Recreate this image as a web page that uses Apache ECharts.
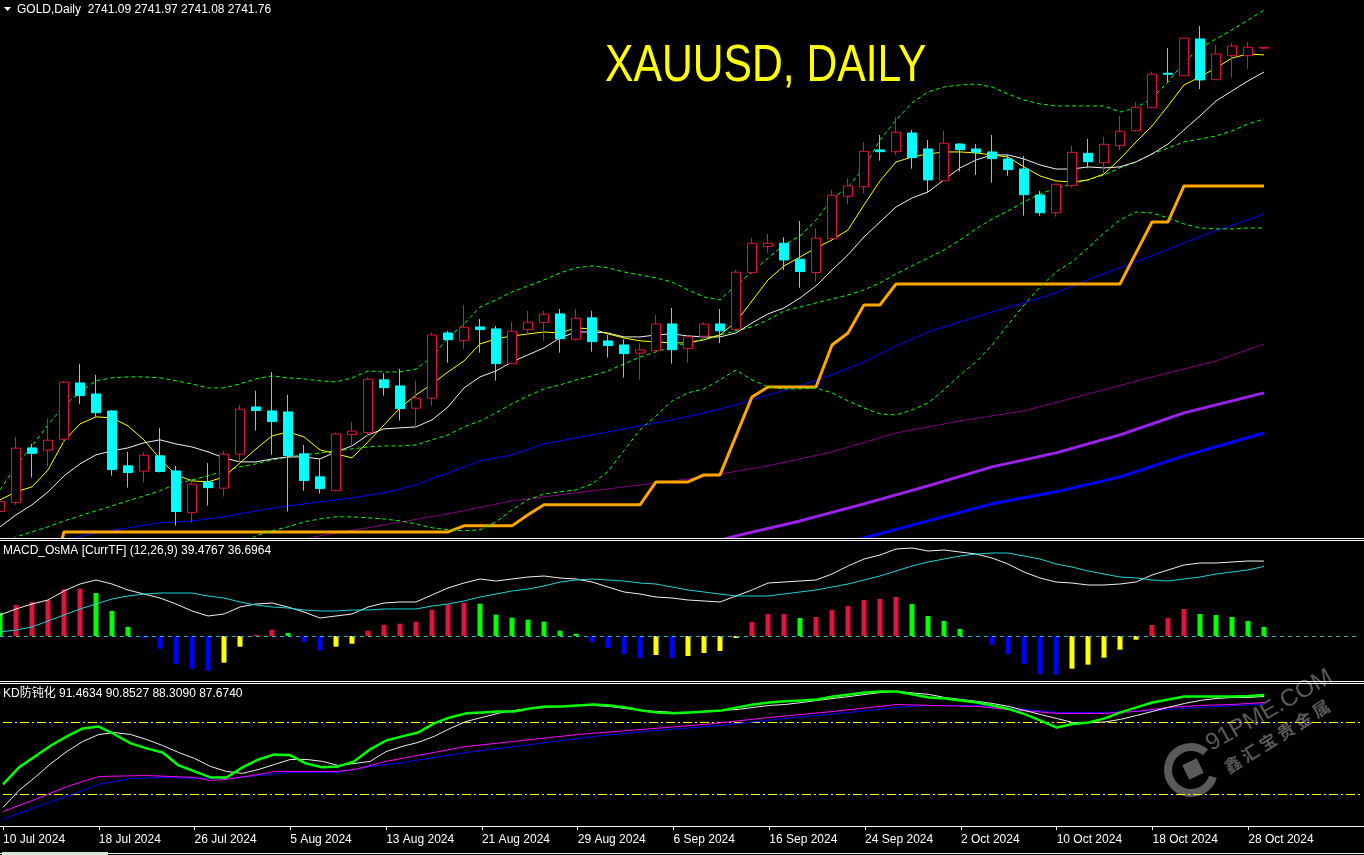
<!DOCTYPE html>
<html><head><meta charset="utf-8">
<script src="https://cdn.jsdelivr.net/npm/echarts@6.0.0/dist/echarts.min.js"></script>
<style>html,body{margin:0;padding:0;background:#000;overflow:hidden}#c{width:1364px;height:855px}</style>
</head><body><div id="c"></div>
<script>
// ---------- categories (trading days) ----------
const julDays = [10,11,12,15,16,17,18,19,22,23,24,25,26,29,30,31];
const augDays = [1,2,5,6,7,8,9,12,13,14,15,16,19,20,21,22,23,26,27,28,29,30];
const sepDays = [2,3,4,5,6,9,10,11,12,13,16,17,18,19,20,23,24,25,26,27,30];
const octDays = [1,2,3,4,7,8,9,10,11,14,15,16,17,18,21,22,23,24,25,28,29];
const emptySlots = 6;
const labelEvery = 6;

// ---------- candles ----------
const opens = [2366.6,2373.8,2418.0,2416.2,2425.0,2470.5,2461.6,2447.9,2403.5,2399.2,
2411.6,2399.4,2365.7,2390.5,2385.5,2412.9,2451.1,2447.9,2447.1,2413.2,
2394.6,2383.5,2428.8,2430.4,2473.0,2468.1,2450.1,2458.2,2510.9,2504.7,
2515.8,2514.2,2486.1,2513.6,2519.3,2526.3,2505.8,2523.1,2504.5,2501.2,
2494.5,2496.6,2518.2,2498.2,2508.3,2518.2,2513.9,2559.7,2580.7,2583.4,
2570.5,2559.7,2587.1,2621.4,2629.1,2658.8,2657.4,2672.5,2659.6,2634.0,
2663.6,2659.6,2657.2,2651.5,2643.4,2622.4,2608.1,2630.0,2656.1,2648.5,
2662.3,2674.4,2693.0,2720.8,2718.8,2748.5,2715.6,2735.0,2735.0,2741.09];
const highs = [2380.0,2426.9,2421.3,2442.0,2472.2,2485.9,2477.0,2448.7,2414.8,2414.5,
2434.2,2403.5,2393.0,2405.7,2415.6,2452.8,2464.1,2479.4,2460.8,2420.4,
2409.1,2430.4,2439.0,2475.1,2478.4,2481.8,2472.4,2511.2,2512.6,2533.6,
2522.2,2516.6,2519.8,2528.7,2528.7,2530.3,2530.3,2528.7,2509.3,2505.8,
2502.6,2525.5,2531.1,2509.3,2519.6,2530.3,2561.8,2587.7,2590.9,2588.3,
2601.4,2595.5,2626.5,2635.9,2665.0,2670.9,2685.5,2675.0,2666.9,2674.2,
2664.2,2663.6,2670.9,2655.0,2654.0,2625.7,2631.3,2662.0,2667.7,2669.3,
2686.3,2697.6,2722.1,2741.2,2749.3,2759.0,2743.6,2745.3,2746.1,2741.97];
const lows = [2359.8,2372.0,2394.0,2403.5,2422.3,2453.3,2443.3,2395.6,2385.9,2390.0,
2398.2,2355.2,2357.7,2371.4,2378.7,2405.7,2432.0,2412.4,2366.6,2383.5,
2381.1,2382.7,2419.1,2427.1,2460.3,2440.1,2434.4,2451.9,2486.9,2498.0,
2495.0,2472.4,2485.5,2509.6,2504.7,2495.0,2504.7,2495.8,2491.0,2474.8,
2473.2,2496.4,2486.1,2486.9,2505.3,2502.6,2512.3,2558.6,2575.8,2561.8,
2547.5,2552.4,2586.9,2614.9,2623.8,2650.2,2655.0,2643.7,2624.9,2633.8,
2641.3,2638.6,2632.4,2638.0,2605.7,2605.7,2604.9,2628.3,2644.0,2639.4,
2658.8,2673.6,2692.5,2713.7,2718.6,2708.1,2715.4,2717.2,2724.5,2741.08];
const closes = [2374.6,2417.8,2413.6,2424.2,2471.1,2460.3,2446.5,2400.5,2398.1,2412.1,
2398.9,2366.6,2388.7,2385.9,2412.9,2449.3,2448.2,2439.3,2411.8,2391.6,
2385.1,2429.3,2431.5,2473.5,2466.7,2449.8,2458.2,2509.3,2505.5,2515.5,
2513.6,2486.1,2512.3,2519.6,2526.0,2506.3,2522.8,2503.9,2500.7,2494.2,
2497.2,2518.2,2497.4,2507.7,2518.0,2512.6,2560.0,2583.4,2583.4,2569.9,
2560.5,2587.5,2622.2,2629.7,2657.7,2657.4,2673.1,2652.6,2634.6,2664.2,
2659.0,2656.9,2651.8,2642.9,2622.7,2608.1,2631.1,2656.9,2649.3,2663.4,
2673.9,2693.3,2720.0,2720.0,2749.1,2715.4,2736.4,2742.8,2741.8,2741.76];

// ---------- main-window indicators ----------
const yellowMA = [2376.0,2382.5,2386.5,2400.2,2423.7,2437.4,2443.1,2442.3,2435.8,2424.5,
2409.1,2396.2,2391.4,2390.5,2394.6,2405.9,2417.2,2427.7,2430.9,2426.9,
2416.4,2413.2,2409.9,2422.9,2436.6,2450.3,2460.8,2469.7,2479.4,2488.3,
2502.0,2506.1,2508.5,2510.1,2511.7,2510.9,2515.0,2514.2,2510.1,2506.9,
2504.5,2503.7,2502.9,2502.9,2505.3,2509.3,2519.8,2536.8,2553.8,2565.1,
2572.3,2579.6,2586.1,2594.2,2614.4,2633.8,2649.1,2653.1,2655.6,2657.2,
2657.2,2656.4,2654.8,2653.1,2645.1,2637.8,2633.8,2632.9,2634.6,2639.4,
2651.5,2665.3,2678.2,2694.4,2711.3,2717.8,2725.1,2733.1,2736.4,2735.6];
const whiteMA = [2354.2,2363.9,2372.0,2382.5,2395.4,2405.1,2412.4,2415.6,2418.0,2422.1,
2424.5,2421.2,2418.8,2414.8,2409.9,2406.7,2406.7,2409.1,2410.7,2410.7,
2409.1,2414.8,2419.6,2428.5,2433.4,2434.2,2435.0,2440.6,2451.1,2466.5,
2475.4,2480.2,2487.5,2493.2,2498.8,2506.9,2511.7,2511.7,2510.9,2507.7,
2507.7,2509.3,2510.1,2508.5,2507.7,2507.7,2510.9,2519.0,2526.3,2531.1,
2539.2,2548.9,2561.8,2574.0,2588.5,2600.6,2612.7,2620.0,2624.9,2634.6,
2644.3,2650.7,2654.8,2654.8,2651.5,2646.7,2643.4,2643.4,2645.1,2644.3,
2645.1,2649.1,2655.6,2663.6,2675.0,2686.3,2698.4,2706.5,2714.6,2721.8];
const upperBand = [2384.1,2403.5,2419.6,2436.6,2452.0,2463.3,2472.2,2474.6,2475.4,2475.4,
2474.6,2472.2,2469.7,2466.5,2466.5,2469.7,2473.8,2476.2,2474.6,2473.8,
2472.2,2471.3,2474.6,2480.2,2479.4,2479.4,2481.8,2491.5,2506.9,2518.2,
2531.9,2537.6,2544.1,2548.9,2553.8,2559.4,2563.5,2565.1,2563.5,2560.2,
2557.8,2555.4,2552.1,2545.7,2540.0,2537.6,2549.7,2560.2,2571.5,2582.0,
2589.3,2602.2,2619.2,2628.9,2644.3,2666.9,2683.0,2696.8,2705.7,2709.7,
2711.3,2712.1,2709.7,2704.0,2699.2,2696.0,2694.4,2694.4,2694.4,2694.4,
2689.5,2692.7,2700.8,2713.7,2729.9,2741.2,2748.5,2755.8,2763.8,2771.9];
const midBand = [2339.6,2346.1,2350.1,2354.2,2359.0,2363.1,2367.1,2371.2,2375.2,2379.2,
2383.3,2388.9,2392.2,2395.4,2399.4,2402.7,2405.1,2408.3,2410.7,2412.4,
2414.0,2415.6,2417.2,2418.8,2419.6,2419.6,2420.4,2424.5,2428.5,2435.0,
2439.8,2446.3,2453.6,2460.0,2465.7,2468.9,2473.0,2476.2,2480.2,2485.9,
2491.5,2495.6,2499.6,2502.9,2506.1,2509.3,2512.6,2515.8,2521.4,2528.7,
2531.9,2535.2,2538.4,2541.6,2545.7,2551.3,2558.6,2565.1,2571.5,2578.0,
2586.1,2595.0,2603.0,2609.5,2616.8,2623.2,2628.1,2631.3,2634.6,2638.6,
2644.3,2649.1,2655.6,2660.4,2665.3,2667.7,2670.1,2674.2,2679.8,2683.8];
const lowerBand = [null,null,null,null,null,null,null,null,null,null,
null,null,null,null,null,2339.6,2346.9,2351.0,2354.2,2358.2,
2360.6,2362.3,2362.3,2361.5,2360.6,2359.0,2356.6,2353.4,2351.8,2351.0,
2351.8,2358.2,2367.9,2376.0,2380.8,2382.5,2384.1,2388.9,2399.0,2416.0,
2432.6,2443.9,2456.0,2462.5,2465.7,2473.0,2481.0,2473.0,2467.3,2465.7,
2465.7,2466.5,2462.5,2456.0,2450.3,2445.5,2444.7,2448.7,2454.4,2464.9,
2477.0,2487.5,2501.2,2517.4,2533.6,2548.1,2560.2,2568.3,2579.6,2591.7,
2602.2,2608.7,2607.9,2603.9,2599.0,2595.8,2595.0,2595.0,2595.8,2595.8];
const orangeLine = [null,null,null,2300.0,2350.1,2350.1,2350.1,2350.1,2350.1,2350.1,
2350.1,2350.1,2350.1,2350.1,2350.1,2350.1,2350.1,2350.1,2350.1,2350.1,
2350.1,2350.1,2350.1,2350.1,2350.1,2350.1,2350.1,2350.1,2350.1,2355.0,
2355.0,2355.0,2355.0,2363.9,2372.0,2372.0,2372.0,2372.0,2372.0,2372.0,
2372.0,2390.5,2390.5,2390.5,2396.2,2396.2,2427.7,2459.2,2467.3,2467.3,
2467.3,2467.3,2501.2,2510.9,2533.6,2533.6,2550.5,2550.5,2550.5,2550.5,
2550.5,2550.5,2550.5,2550.5,2550.5,2550.5,2550.5,2550.5,2550.5,2550.5,
2550.5,2575.6,2600.6,2600.6,2629.7,2629.7,2629.7,2629.7,2629.7,2629.7];
// long moving averages, read at [bar, value]
const blueMA = [[4,2343.7],[6,2349.3],[8,2353.4],[10,2357.4],[12,2359.0],[14,2362.3],[16,2367.1],[18,2371.2],[20,2374.4],[22,2377.6],[24,2381.7],[26,2388.1],[28,2397.8],[30,2407.5],[32,2412.4],[34,2421.2],[36,2426.1],[38,2430.9],[40,2435.8],[42,2440.6],[44,2446.3],[46,2452.8],[48,2460.8],[50,2468.1],[52,2477.0],[54,2487.5],[56,2500.4],[58,2511.7],[60,2519.8],[62,2527.9],[64,2535.2],[66,2543.3],[68,2553.8],[70,2563.5],[72,2573.2],[74,2583.7],[76,2593.4],[78,2602.2],[79,2607.1]];
const purpleMA = [[18,2342.1],[20,2346.9],[24,2355.8],[28,2364.7],[32,2375.2],[36,2381.7],[40,2388.1],[44,2394.6],[48,2403.5],[52,2414.8],[56,2430.1],[60,2439.8],[64,2447.9],[68,2461.6],[72,2475.4],[76,2488.3],[79,2502.0]];
const violetMA = [[44,2339.6],[46,2346.9],[50,2359.0],[54,2372.8],[58,2387.3],[62,2402.7],[66,2414.0],[70,2428.5],[74,2446.3],[79,2462.5]];
const navyMA = [[52,2338.8],[54,2345.3],[58,2359.0],[62,2372.8],[66,2382.5],[70,2394.6],[74,2411.6],[79,2430.1]];

// ---------- MACD_OsMA ----------
const osmaBefore = 13.5;
const osma = [12.28,16.34,17.92,18.97,24.61,24.93,22.66,13.18,4.74,-1.05,
-6.69,-14.60,-17.23,-18.29,-14.07,-5.64,0.69,3.32,1.58,-3.00,
-7.75,-5.64,-4.06,2.79,5.96,6.48,7.54,13.86,16.71,17.55,
17.02,11.23,9.64,8.59,7.54,2.79,1.21,-3.16,-6.32,-9.49,
-11.59,-10.01,-11.59,-10.54,-8.96,-7.91,-1.05,7.38,11.59,11.62,
9.49,10.01,13.70,15.81,18.97,19.50,20.55,16.86,10.54,7.91,
3.69,-0.37,-4.58,-9.49,-14.76,-20.03,-20.39,-17.23,-15.12,-11.44,
-7.22,-1.95,5.80,9.49,14.23,11.59,11.07,10.01,7.91,4.74];
const macdLine = [11.07,14.23,16.86,18.97,23.72,27.40,29.51,27.40,24.24,22.13,
20.03,16.86,13.18,10.54,11.59,15.28,16.86,17.39,15.28,12.65,
9.49,10.54,11.59,15.28,17.39,17.92,17.92,21.61,25.30,27.93,
30.04,28.99,30.04,31.09,31.62,30.57,30.04,28.46,25.82,23.19,
22.13,20.55,20.03,18.97,18.45,17.92,21.08,24.24,27.93,28.46,
28.99,29.51,32.67,36.89,40.58,42.69,45.85,46.38,44.80,45.32,
44.27,43.21,41.11,37.94,33.73,30.57,28.46,27.93,26.88,26.88,
27.40,28.46,32.15,34.78,37.42,38.47,38.47,39.00,39.53,39.4767];
const signalLine = [2.11,3.16,4.74,7.91,11.07,14.23,16.86,19.50,21.08,22.13,
22.66,22.66,22.66,21.08,20.03,17.92,16.34,15.28,14.76,13.70,
13.18,13.18,13.70,13.70,14.23,14.23,14.23,15.81,16.86,18.45,
20.55,22.13,23.72,24.77,26.35,28.46,29.51,30.04,29.51,28.99,
27.93,27.40,25.82,24.24,23.19,22.13,21.08,21.08,21.08,22.13,
23.19,24.24,25.82,27.40,29.51,31.62,34.26,36.89,39.00,40.58,
42.16,43.21,43.74,43.74,42.16,40.58,37.94,36.36,34.26,32.67,
31.09,30.57,29.51,28.99,30.04,31.09,32.67,33.73,34.78,36.6964];

// ---------- KD ----------
const kdLevels = [80, 50];
const kdGreen = [54.2,61.3,65.8,70.4,74.2,77.5,78.3,75.0,71.3,69.2,
67.5,62.1,59.6,57.1,57.1,61.3,64.6,66.7,66.3,62.9,
61.3,61.7,63.8,68.8,72.5,74.2,75.8,79.6,82.1,83.8,
84.2,84.6,84.6,85.8,86.7,86.7,87.1,87.5,87.1,86.3,
85.0,84.2,83.8,84.2,84.6,85.0,86.3,87.5,88.3,88.8,
89.2,89.6,90.8,91.7,92.5,92.9,92.9,91.7,90.4,90.0,
89.2,88.3,87.1,85.6,83.5,80.8,77.9,79.4,80.0,81.7,
84.2,86.3,88.3,89.6,90.8,90.8,90.8,90.8,91.0,91.4634];
const kdWhite = [44.6,51.7,57.1,62.9,67.9,72.1,75.0,75.8,75.0,72.9,
70.4,67.5,65.0,61.7,59.6,58.8,60.4,62.5,64.6,64.6,
63.8,62.1,62.9,63.8,67.9,70.0,71.7,74.2,77.5,80.4,
82.1,83.8,85.0,85.8,86.3,86.7,87.1,87.1,86.7,85.8,
85.0,84.6,84.2,84.2,84.6,85.0,85.4,86.3,87.1,87.5,
88.3,89.2,90.0,90.8,91.7,92.5,92.9,92.3,91.7,90.4,
89.6,88.8,87.9,86.7,85.0,83.3,81.7,80.0,80.0,80.2,
81.3,82.9,84.6,86.3,87.9,89.2,90.0,90.4,90.4,90.8527];
const kdMagenta = [[0,42.9],[2,47.9],[4,53.3],[6,57.5],[9,57.9],[12,57.1],[13,55.8],[14,56.3],[16,58.3],[17,59.6],[21,59.6],[22,60.4],[24,63.8],[26,66.3],[29,70.0],[32,72.1],[36,75.0],[40,77.1],[44,79.2],[48,82.1],[52,84.6],[56,87.5],[58,87.1],[61,86.7],[63,85.4],[66,83.8],[69,83.8],[71,84.6],[73,86.3],[75,87.1],[77,87.5],[79,88.3090]];
const kdBlue = [[0,39.6],[2,44.6],[4,49.2],[6,54.2],[8,56.7],[10,57.1],[12,56.7],[14,56.7],[16,57.9],[18,59.2],[21,59.2],[23,61.7],[25,63.3],[27,65.4],[29,67.5],[33,70.8],[37,74.2],[41,76.7],[45,78.8],[49,81.7],[53,84.2],[56,86.3],[58,87.1],[61,87.1],[64,85.4],[66,84.2],[69,84.2],[72,85.0],[75,86.3],[79,87.6740]];

// ---------- build ----------
const cats = [].concat(
  julDays.map(d => d + ' Jul 2024'), augDays.map(d => d + ' Aug 2024'),
  sepDays.map(d => d + ' Sep 2024'), octDays.map(d => d + ' Oct 2024'),
  new Array(emptySlots).fill(''));
const last = opens.length - 1;
const lastCat = cats.length - 1;
const candleData = opens.map((o, i) => [o, closes[i], lows[i], highs[i]]);
const FONT = "'Liberation Sans', Arial, 'Noto Sans CJK SC', sans-serif";
const showLabel = (idx, val) => val !== '' && idx % labelEvery === 0;

function osmaColor(i) {
  const v = osma[i], p = i > 0 ? osma[i - 1] : osmaBefore;
  if (v >= 0) return v >= p ? '#DC143C' : '#00FF00';
  return v < p ? '#0000FF' : '#FFFF00';
}
function line(name, data, color, width, opts) {
  return Object.assign({
    name, type: 'line', data, symbol: 'none', silent: true, connectNulls: true,
    xAxisIndex: 0, yAxisIndex: 0, z: 2,
    lineStyle: { color, width }
  }, opts || {});
}
const GL = [0, 1, 2].map(g => ({
  gridIndex: g, type: 'category', data: cats, boundaryGap: false,
  axisLine: { show: g === 2, lineStyle: { color: '#ffffff', width: 1 } },
  axisTick: { show: g === 2, interval: showLabel, length: 4, lineStyle: { color: '#ffffff' } },
  axisLabel: { show: g === 2, interval: showLabel, color: '#ffffff', fontSize: 12, fontFamily: FONT, align: 'left', margin: 8 },
  splitLine: { show: false }
}));
const plotWidth = (cats.length - 1) * 16;
const levelSeries = kdLevels.map(v => line('KD level ' + v, [[0, v], [lastCat, v]], '#FFFF00', 1, {
  xAxisIndex: 2, yAxisIndex: 2, z: 1,
  lineStyle: { color: '#FFFF00', width: 1, type: [9, 3, 2, 3] }
}));

const option = {
  backgroundColor: '#000000',
  animation: false,
  grid: [
    { left: 0, top: 0, width: plotWidth, height: 537 },
    { left: 0, top: 541, width: plotWidth, height: 140 },
    { left: 0, top: 685, width: plotWidth, height: 141 }
  ],
  xAxis: GL,
  yAxis: [
    { gridIndex: 0, min: 2346, max: 2780, show: false },
    { gridIndex: 1, min: -23.72, max: 50.07, show: false },
    { gridIndex: 2, min: 36.87, max: 95.62, show: false }
  ],
  series: [
    line('MA long 2', navyMA, '#0000FF', 3),
    line('MA long 1', violetMA, '#A020F0', 3),
    line('MA 100', purpleMA, '#800080', 1),
    line('MA 50', blueMA, '#0000FF', 1),
    line('Stop line', orangeLine, '#FFA500', 3, { connectNulls: false }),
    line('Upper band', upperBand, '#00FF00', 1, { lineStyle: { color: '#00FF00', width: 1, type: [4, 3] } }),
    line('Middle band', midBand, '#00FF00', 1, { lineStyle: { color: '#00FF00', width: 1, type: [4, 3] } }),
    line('Lower band', lowerBand, '#00FF00', 1, { connectNulls: false, lineStyle: { color: '#00FF00', width: 1, type: [4, 3] } }),
    line('MA slow', whiteMA, '#F0F0F0', 1),
    line('MA fast', yellowMA, '#FFFF00', 1),
    {
      name: 'GOLD', type: 'candlestick', data: candleData, xAxisIndex: 0, yAxisIndex: 0,
      barWidth: 10, z: 5, silent: true,
      itemStyle: { color: '#000000', color0: '#00FFFF', borderColor: '#DC143C', borderColor0: '#00FFFF', borderWidth: 1 }
    },
    {
      name: 'OsMA', type: 'bar', data: osma, xAxisIndex: 1, yAxisIndex: 1, barWidth: 5, silent: true,
      itemStyle: { color: p => osmaColor(p.dataIndex) },
      markLine: {
        silent: true, symbol: ['none', 'none'], label: { show: false },
        lineStyle: { color: '#2BB5B5', type: [4, 4], width: 1 },
        data: [{ yAxis: 0 }]
      }
    },
    line('MACD', macdLine, '#F0F0F0', 1, { xAxisIndex: 1, yAxisIndex: 1 }),
    line('Signal', signalLine, '#1ED6D6', 1, { xAxisIndex: 1, yAxisIndex: 1 }),
    ...levelSeries,
    line('KD blue', kdBlue, '#0000FF', 1, { xAxisIndex: 2, yAxisIndex: 2 }),
    line('KD magenta', kdMagenta, '#FF00FF', 1, { xAxisIndex: 2, yAxisIndex: 2 }),
    line('KD white', kdWhite, '#F0F0F0', 1, { xAxisIndex: 2, yAxisIndex: 2 }),
    line('KD green', kdGreen, '#00FF00', 2.5, { xAxisIndex: 2, yAxisIndex: 2, z: 3 })
  ],
  graphic: [
    // watermark
    { type: 'arc', z: 0, shape: { cx: 1191, cy: 770, r: 23, startAngle: 0.3, endAngle: 5.4 }, style: { stroke: '#5a5a5a', lineWidth: 8, fill: null } },
    { type: 'rect', z: 0, x: 1193, y: 769, rotation: 0.45, shape: { x: -8, y: -8, width: 16, height: 16 }, style: { fill: '#5a5a5a' } },
    { type: 'text', z: 0, x: 1214, y: 756, rotation: 0.52, style: { text: '91PME.COM', fill: '#5a5a5a', fontSize: 24, fontFamily: FONT, textVerticalAlign: 'bottom' } },
    { type: 'text', z: 0, x: 1230, y: 776, rotation: 0.56, style: { text: '鑫 汇 宝 贵 金 属', fill: '#5a5a5a', fontSize: 17, fontWeight: 'bold', fontFamily: "'Noto Sans CJK SC', sans-serif", textVerticalAlign: 'bottom' } },
    // window borders
    { type: 'line', z: 10, shape: { x1: 0, y1: 538.5, x2: 1364, y2: 538.5 }, style: { stroke: '#ffffff', lineWidth: 1 } },
    { type: 'line', z: 10, shape: { x1: 0, y1: 540.5, x2: 1364, y2: 540.5 }, style: { stroke: '#ffffff', lineWidth: 1 } },
    { type: 'line', z: 10, shape: { x1: 0, y1: 681.5, x2: 1364, y2: 681.5 }, style: { stroke: '#ffffff', lineWidth: 1 } },
    { type: 'line', z: 10, shape: { x1: 0, y1: 683.5, x2: 1364, y2: 683.5 }, style: { stroke: '#ffffff', lineWidth: 1 } },
    { type: 'line', z: 10, shape: { x1: 0, y1: 826.5, x2: 1364, y2: 826.5 }, style: { stroke: '#ffffff', lineWidth: 1 } },
    { type: 'line', z: 10, shape: { x1: 0, y1: 853.5, x2: 1364, y2: 853.5 }, style: { stroke: '#ffffff', lineWidth: 1 } },
    { type: 'rect', z: 10, shape: { x: 2, y: 852, width: 106, height: 3 }, style: { fill: '#d6e8d6' } },
    // texts
    { type: 'polygon', z: 10, shape: { points: [[4, 7], [11, 7], [7.5, 11]] }, style: { fill: '#ffffff' } },
    { type: 'text', z: 10, x: 17, y: 10, style: { text: 'GOLD,Daily  ' + [opens[last], highs[last], lows[last], closes[last]].map(v => v.toFixed(2)).join(' '), fill: '#ffffff', fontSize: 12, fontFamily: FONT, textVerticalAlign: 'middle' } },
    { type: 'text', z: 10, x: 605, y: 67, scaleX: 0.82, style: { text: 'XAUUSD, DAILY', fill: '#FFFF00', fontSize: 52, fontFamily: FONT, textVerticalAlign: 'middle' } },
    { type: 'text', z: 10, x: 3, y: 551, style: { text: 'MACD_OsMA [CurrTF] (12,26,9) ' + macdLine[last].toFixed(4) + ' ' + signalLine[last].toFixed(4), fill: '#ffffff', fontSize: 12, fontFamily: FONT, textVerticalAlign: 'middle' } },
    { type: 'text', z: 10, x: 3, y: 694, style: { text: 'KD防钝化 ' + [kdGreen[last], kdWhite[last], kdMagenta[kdMagenta.length - 1][1], kdBlue[kdBlue.length - 1][1]].map(v => v.toFixed(4)).join(' '), fill: '#ffffff', fontSize: 12, fontFamily: FONT, textVerticalAlign: 'middle' } }
  ]
};
const chart = echarts.init(document.getElementById('c'), null, { renderer: 'canvas' });
chart.setOption(option);
</script></body></html>
